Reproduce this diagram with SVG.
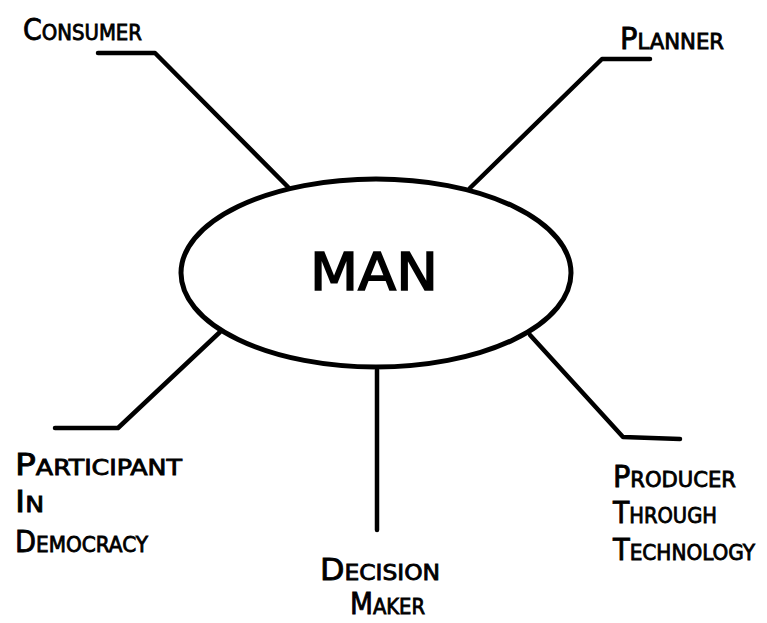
<svg xmlns="http://www.w3.org/2000/svg" width="767" height="623" viewBox="0 0 767 623">
<style>
.ln{fill:none;stroke:#000;stroke-width:4.5;stroke-linecap:round;stroke-linejoin:round}
.lb{font-family:"DejaVu Sans Condensed","DejaVu Sans",sans-serif;fill:#000;stroke:#000;stroke-width:0.8;font-size:22px}
.big{font-size:30px}
.man{font-family:"DejaVu Sans","Liberation Sans",sans-serif;font-size:52px;fill:#000;stroke:#000;stroke-width:1.6}
</style>
<rect width="767" height="623" fill="#fff"/>
<g id="connectors">
<polyline class="ln" points="98,53 155,53 288,187"/>
<polyline class="ln" points="650,59 602,59 470,188"/>
<polyline class="ln" points="220,332 118,428 55,428"/>
<polyline class="ln" points="530,335 623,437 680,439"/>
<polyline class="ln" points="377,370 377,530"/>
</g>
<g id="man">
<ellipse cx="376" cy="273" rx="195" ry="94" fill="#fff" stroke="#000" stroke-width="5"/>
<text class="man" x="310" y="290" textLength="128" lengthAdjust="spacingAndGlyphs">MAN</text>
</g>
<g id="consumer">
<text class="lb" x="23" y="40" textLength="119" lengthAdjust="spacingAndGlyphs"><tspan class="big">C</tspan>ONSUMER</text>
</g>
<g id="planner">
<text class="lb" x="620" y="49" textLength="104" lengthAdjust="spacingAndGlyphs"><tspan class="big">P</tspan>LANNER</text>
</g>
<g id="participant">
<text class="lb" x="15" y="475" textLength="167" lengthAdjust="spacingAndGlyphs"><tspan class="big">P</tspan>ARTICIPANT</text>
<text class="lb" x="15" y="512" textLength="29" lengthAdjust="spacingAndGlyphs"><tspan class="big">I</tspan>N</text>
<text class="lb" x="15" y="552" textLength="133" lengthAdjust="spacingAndGlyphs"><tspan class="big">D</tspan>EMOCRACY</text>
</g>
<g id="decision">
<text class="lb" x="320" y="580" textLength="120" lengthAdjust="spacingAndGlyphs"><tspan class="big">D</tspan>ECISION</text>
<text class="lb" x="350" y="614" textLength="75" lengthAdjust="spacingAndGlyphs"><tspan class="big">M</tspan>AKER</text>
</g>
<g id="producer">
<text class="lb" x="613" y="487" textLength="123" lengthAdjust="spacingAndGlyphs"><tspan class="big">P</tspan>RODUCER</text>
<text class="lb" x="613" y="523" textLength="104" lengthAdjust="spacingAndGlyphs"><tspan class="big">T</tspan>HROUGH</text>
<text class="lb" x="613" y="560" textLength="142" lengthAdjust="spacingAndGlyphs"><tspan class="big">T</tspan>ECHNOLOGY</text>
</g>
</svg>
